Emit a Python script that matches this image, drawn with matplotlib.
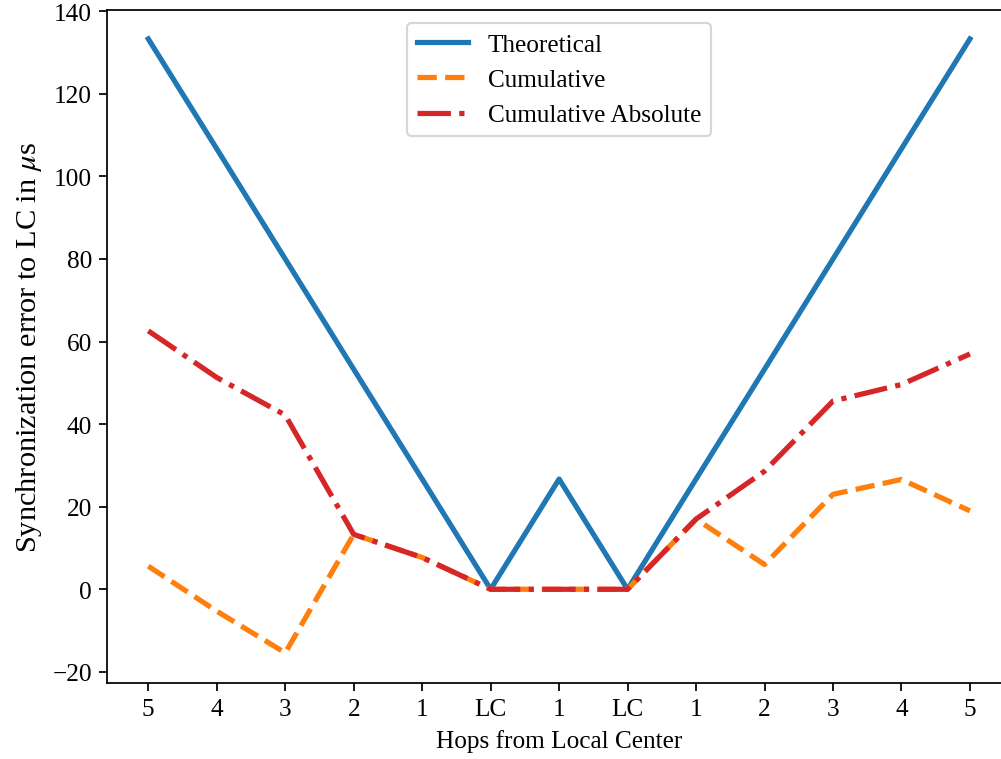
import matplotlib
matplotlib.use('Agg')
import matplotlib.pyplot as plt
import numpy as np

plt.rcParams['font.family'] = ['Liberation Serif', 'DejaVu Serif']
plt.rcParams['mathtext.fontset'] = 'stix'
plt.rcParams['font.size'] = 11.6

hops = ['5', '4', '3', '2', '1', 'LC', '1', 'LC', '1', '2', '3', '4', '5']
theoretical = [133.3, 106.7, 80.0, 53.3, 26.7, 0, 26.7, 0, 26.7, 53.3, 80.0, 106.7, 133.3]
cumulative = [5.6, -5.3, -15.4, 13.3, 7.7, 0, 0, 0, 17.0, 6.0, 23.0, 26.6, 19.0]
cumulative_abs = [62.6, 51.3, 42.2, 13.3, 7.7, 0, 0, 0, 17.0, 28.6, 45.6, 49.6, 57.0]

x = np.arange(len(hops))

fig, ax = plt.subplots(figsize=(6.4, 4.854), dpi=156.56)
ax.plot(x, theoretical, color='#1f77b4', lw=2.4, label='Theoretical')
ax.plot(x, cumulative, color='#ff7f0e', lw=2.4, ls='--', label='Cumulative')
ax.plot(x, cumulative_abs, color='#d62728', lw=2.4, ls='-.', label='Cumulative Absolute')

ax.set_xticks(x)
ax.set_xticklabels(hops)
ax.set_ylim(-22.7, 140.2)
ax.set_yticks(np.arange(-20, 141, 20))
ax.set_xlabel('Hops from Local Center')
ax.set_ylabel(r'Synchronization error to LC in $\mu$s', fontsize=14)
ax.legend(loc='upper center')

# the original image cuts off the right edge of the axes
plt.subplots_adjust(left=0.107, right=1.009, top=0.985, bottom=0.100)
plt.savefig('out.png')
plt.close()
